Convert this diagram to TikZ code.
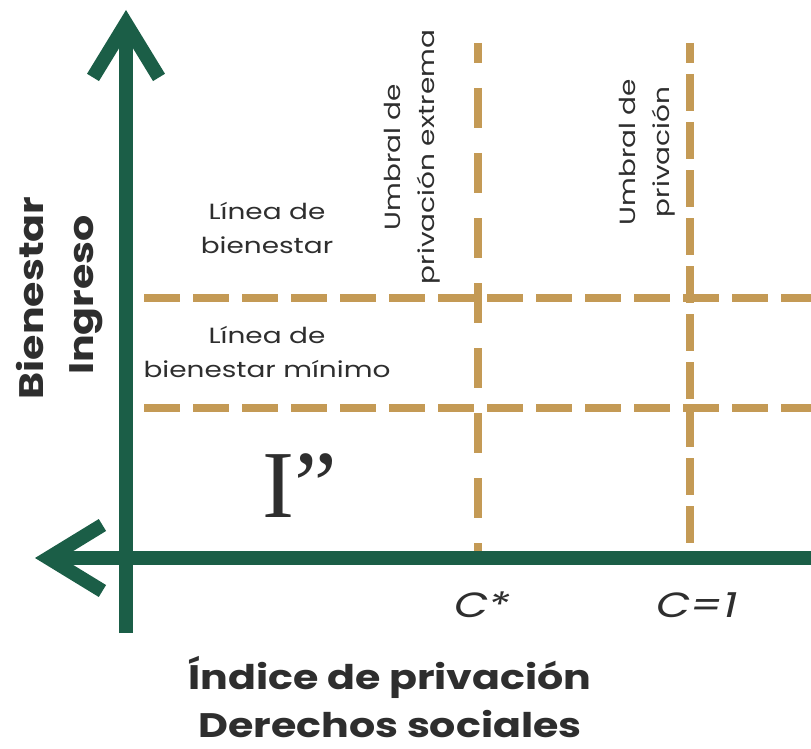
\documentclass[tikz,border=0pt]{standalone}
\usepackage{fontspec}
\setmainfont{Poppins}[FakeStretch=1.27]
\newfontfamily\titlefont{Poppins}[FakeStretch=1.21]
\newfontfamily\serifI{Liberation Serif}
\usetikzlibrary{arrows.meta}
\definecolor{axisgreen}{HTML}{1B5E47}
\definecolor{linegold}{HTML}{C49A55}
\definecolor{textgray}{HTML}{2E2E2E}

\begin{document}
\begin{tikzpicture}[x=1pt, y=-1pt,
  axis/.style={draw=axisgreen, line width=14pt, -{Straight Barb[length=54pt,width=66pt]}},
  umbral/.style={draw=linegold, line width=8pt},
  linelabel/.style={font=\fontsize{22}{34}\selectfont, text=textgray, align=center},
  axislabel/.style={font=\titlefont\fontsize{34}{48}\selectfont\bfseries, text=textgray, align=center},
  ticklabel/.style={font=\fontsize{35}{40}\selectfont\itshape, text=textgray}]
\useasboundingbox (0,0) rectangle (811,749);

% axis ends
\coordinate (ytop) at (126,10);
\coordinate (ybot) at (126,633);
\coordinate (xleft) at (35,558);
\coordinate (xright) at (811,558);

% thresholds and lines
\coordinate (h1a) at (133,298);
\coordinate (h1b) at (811,298);
\coordinate (h2a) at (133,408);
\coordinate (h2b) at (811,408);
\coordinate (v1a) at (478,43);
\coordinate (v1b) at (478,555);
\coordinate (v2a) at (690,43);
\coordinate (v2b) at (690,555);
\draw[umbral, dash pattern=on 36pt off 13pt, dash phase=38pt] (h1a) -- (h1b);
\draw[umbral, dash pattern=on 36pt off 13pt, dash phase=38pt] (h2a) -- (h2b);
\draw[umbral, dash pattern=on 40pt off 25pt, dash phase=20pt] (v1a) -- (v1b);
\draw[umbral, dash pattern=on 37pt off 11pt, dash phase=17pt] (v2a) -- (v2b);

\draw[axis] (ybot) -- (ytop);
\draw[axis] (xright) -- (xleft);

\node[linelabel] (bien) at (267,228) {Línea de\\bienestar};
\node[linelabel] (minimo) at (267,352) {Línea de\\bienestar mínimo};
\node[linelabel, rotate=90] (extrema) at (412,157) {Umbral de\\privación extrema};
\node[linelabel, rotate=90] (privacion) at (647,152) {Umbral de\\privación};

\node[axislabel, rotate=90] (bienestar) at (30,298) {Bienestar};
\node[axislabel, rotate=90] (ingreso) at (86,295) {Ingreso};
\node[axislabel] (indice) at (390,697) {Índice de privación\\Derechos sociales};

\node[font=\serifI\fontsize{96}{96}\selectfont, text=textgray] (iprima) at (300,486) {I”};
\node[ticklabel] (cstar) at (482,605) {C*};
\node[ticklabel] (cone) at (697,605) {C=1};
\end{tikzpicture}
\end{document}
